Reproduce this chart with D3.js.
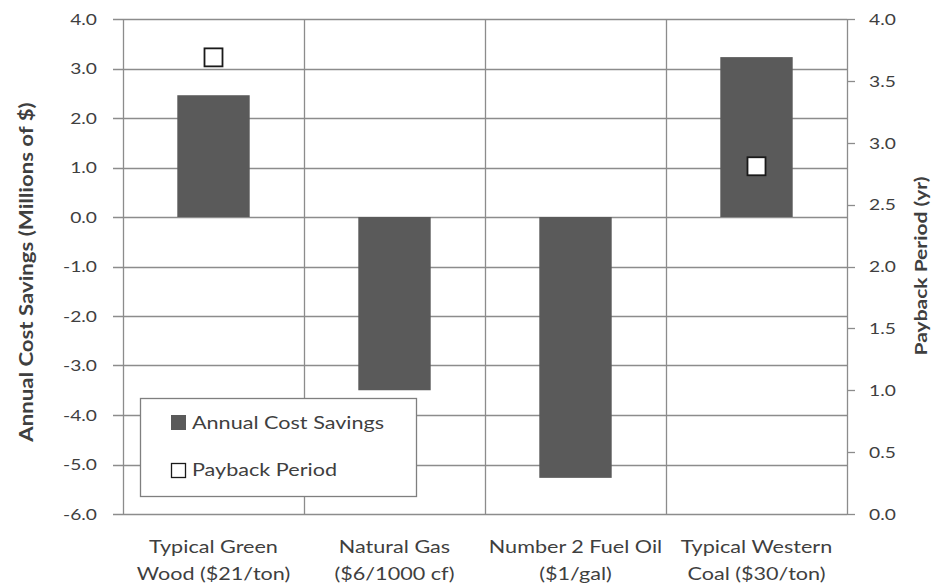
<!DOCTYPE html>
<html>
<head>
<meta charset="utf-8">
<script src="https://cdn.jsdelivr.net/npm/d3@7"></script>
<style>
  html, body { margin: 0; padding: 0; background: #fff; }
  svg { display: block; }
  text { font-family: Lato, "Open Sans", sans-serif; fill: #3f3f3f; }
</style>
</head>
<body>
<svg id="chart" width="936" height="588"></svg>
<script>
// Fuel options compared
const categories = [
  ["Typical Green", "Wood ($21/ton)"],
  ["Natural Gas", "($6/1000 cf)"],
  ["Number 2 Fuel Oil", "($1/gal)"],
  ["Typical Western", "Coal ($30/ton)"]
];
// Annual cost savings, millions of dollars
const savings = [2.46, -3.5, -5.27, 3.23];
// Payback period, years (only where savings are positive)
const payback = [3.69, null, null, 2.81];

const leftTicks = [4, 3, 2, 1, 0, -1, -2, -3, -4, -5, -6];
const rightTicks = [0, 0.5, 1, 1.5, 2, 2.5, 3, 3.5, 4];

const svg = d3.select("#chart");
const plot = { left: 123, right: 847, top: 19, bottom: 514 };
const stretch = 1.2;   // labels are set slightly wide
const fmt = v => v.toFixed(1);  // plain hyphen for negatives

const x = d3.scaleBand()
  .domain(d3.range(categories.length))
  .range([plot.left, plot.right])
  .paddingInner(0).paddingOuter(0);

const yL = d3.scaleLinear().domain([-6, 4]).range([plot.bottom, plot.top]);
const yR = d3.scaleLinear().domain([0, 4]).range([plot.bottom, plot.top]);

const gridColor = "#8c8c8c";

// horizontal gridlines (extend left as tick marks)
svg.append("g").selectAll("line").data(leftTicks).join("line")
  .attr("x1", plot.left - 10).attr("x2", plot.right)
  .attr("y1", d => Math.round(yL(d)) + 0.5).attr("y2", d => Math.round(yL(d)) + 0.5)
  .attr("stroke", gridColor).attr("stroke-width", 1.3);

// vertical category separators
svg.append("g").selectAll("line").data(d3.range(categories.length + 1)).join("line")
  .attr("x1", i => Math.round(plot.left + i * x.bandwidth()) + 0.5)
  .attr("x2", i => Math.round(plot.left + i * x.bandwidth()) + 0.5)
  .attr("y1", plot.top).attr("y2", plot.bottom)
  .attr("stroke", gridColor).attr("stroke-width", 1.3);

// left axis labels
svg.append("g").selectAll("text").data(leftTicks).join("text")
  .attr("transform", d => `translate(97,${yL(d)}) scale(${stretch},1)`)
  .attr("dy", "0.36em").attr("text-anchor", "end")
  .attr("font-size", 16)
  .text(fmt);

// right axis ticks and labels
svg.append("g").selectAll("line").data(rightTicks).join("line")
  .attr("x1", plot.right).attr("x2", plot.right + 8)
  .attr("y1", d => Math.round(yR(d)) + 0.5).attr("y2", d => Math.round(yR(d)) + 0.5)
  .attr("stroke", gridColor).attr("stroke-width", 1.3);
svg.append("g").selectAll("text").data(rightTicks).join("text")
  .attr("transform", d => `translate(869,${yR(d)}) scale(${stretch},1)`)
  .attr("dy", "0.36em").attr("text-anchor", "start")
  .attr("font-size", 16)
  .text(fmt);

// bars
const barW = x.bandwidth() * 0.40;
svg.append("g").selectAll("rect").data(savings).join("rect")
  .attr("x", (d, i) => x(i) + (x.bandwidth() - barW) / 2)
  .attr("width", barW)
  .attr("y", d => yL(Math.max(0, d)))
  .attr("height", d => Math.abs(yL(d) - yL(0)))
  .attr("fill", "#5a5a5a");

// payback markers
const mk = 18;
svg.append("g").selectAll("rect")
  .data(payback.map((v, i) => ({ v, i })).filter(d => d.v != null))
  .join("rect")
  .attr("x", d => x(d.i) + x.bandwidth() / 2 - mk / 2)
  .attr("y", d => yR(d.v) - mk / 2)
  .attr("width", mk).attr("height", mk)
  .attr("fill", "#fff").attr("stroke", "#1a1a1a").attr("stroke-width", 1.8);

// category labels
svg.append("g").selectAll("g").data(categories).join("g")
  .attr("transform", (d, i) => `translate(${x(i) + x.bandwidth() / 2},0) scale(${stretch},1)`)
  .each(function(d) {
    const g = d3.select(this);
    d.forEach((line, k) => {
      g.append("text")
        .attr("x", 0).attr("y", 553 + k * 27)
        .attr("text-anchor", "middle").attr("font-size", 18)
        .text(line);
    });
  });

// axis titles
svg.append("text")
  .attr("transform", `translate(33,272) rotate(-90) scale(${stretch},1)`)
  .attr("text-anchor", "middle").attr("font-size", 18.5).attr("font-weight", "bold")
  .text("Annual Cost Savings (Millions of $)");
svg.append("text")
  .attr("transform", `translate(927,266) rotate(-90) scale(${stretch},1)`)
  .attr("text-anchor", "middle").attr("font-size", 17.5).attr("font-weight", "bold")
  .text("Payback Period (yr)");

// legend
const lg = svg.append("g").attr("transform", "translate(140,398)");
lg.append("rect").attr("x", 0.5).attr("y", 0.5).attr("width", 276).attr("height", 98)
  .attr("fill", "#fff").attr("stroke", "#7f7f7f").attr("stroke-width", 1.3);
lg.append("rect").attr("x", 31).attr("y", 17).attr("width", 15).attr("height", 15)
  .attr("fill", "#5a5a5a");
lg.append("text").attr("transform", `translate(52,25) scale(${stretch},1)`).attr("dy", "0.36em")
  .attr("font-size", 18).text("Annual Cost Savings");
lg.append("rect").attr("x", 31.5).attr("y", 65.5).attr("width", 14).attr("height", 14)
  .attr("fill", "#fff").attr("stroke", "#1a1a1a").attr("stroke-width", 1.3);
lg.append("text").attr("transform", `translate(52,72) scale(${stretch},1)`).attr("dy", "0.36em")
  .attr("font-size", 18).text("Payback Period");
</script>
</body>
</html>
